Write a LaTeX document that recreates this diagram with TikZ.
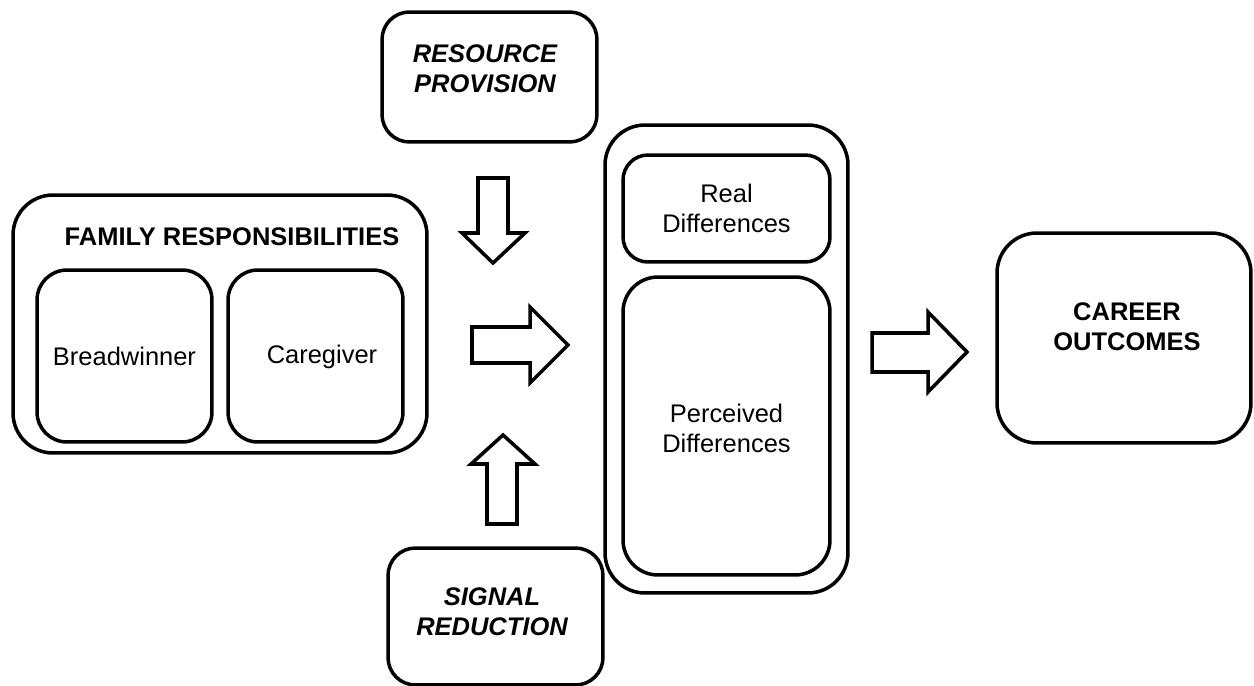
\documentclass[tikz,border=0pt]{standalone}
\usepackage{fontspec}
\setmainfont{Liberation Sans}
\usepackage{tikz}

\begin{document}
\begin{tikzpicture}[x=0.02cm,y=-0.02cm,
  box/.style={draw,line width=2pt,rectangle,inner sep=0pt},
  txt/.style={align=center,font=\fontsize{14.5}{17}\selectfont},
  blockarrow/.style={draw,line width=2pt,line join=miter,fill=white}]
\useasboundingbox (0,0) rectangle (1254,686);
% family responsibilities
\node[box,minimum width=8.28cm,minimum height=5.16cm,rounded corners=0.8cm] (fam) at (220,324) {};
\node[txt,font=\fontsize{14.5}{17}\selectfont\bfseries] (famt) at (232,237) {FAMILY RESPONSIBILITIES};
\node[box,txt,minimum width=3.5cm,minimum height=3.44cm,rounded corners=0.6cm] (bread) at (124.5,356) {Breadwinner};
\node[box,minimum width=3.5cm,minimum height=3.44cm,rounded corners=0.6cm] (care) at (315.5,356) {};
\node[txt] (caret) at (322,357) {Caregiver};
% moderators
\node[box,minimum width=4.3cm,minimum height=2.6cm,rounded corners=0.55cm] (res) at (489.5,77) {};
\node[txt,font=\fontsize{14.5}{17}\selectfont\bfseries\itshape] (rest) at (485,69) {RESOURCE\\PROVISION};
\node[box,minimum width=4.3cm,minimum height=2.74cm,rounded corners=0.55cm] (sig) at (495.5,616.5) {};
\node[txt,font=\fontsize{14.5}{17}\selectfont\bfseries\itshape] (sigt) at (492,612) {SIGNAL\\REDUCTION};
% differences
\node[box,minimum width=4.86cm,minimum height=9.36cm,rounded corners=0.8cm] (mid) at (726.5,359) {};
\node[box,txt,minimum width=4.14cm,minimum height=2.14cm,rounded corners=0.5cm] (real) at (726.5,208.5) {Real\\Differences};
\node[box,minimum width=4.14cm,minimum height=5.96cm,rounded corners=0.7cm] (perc) at (726.5,426) {};
\node[txt] (perct) at (726.5,428) {Perceived\\Differences};
% outcomes
\node[box,minimum width=5.08cm,minimum height=4.2cm,rounded corners=0.8cm] (car) at (1124,338) {};
\node[txt,font=\fontsize{14.5}{17}\selectfont\bfseries] (cart) at (1127,327) {CAREER\\OUTCOMES};
% block arrows
\draw[blockarrow] (478,178) -- (508,178) -- (508,233) -- (525,233) -- (493,263) -- (462,233) -- (478,233) -- cycle;
\draw[blockarrow] (472,327) -- (530,327) -- (530,307) -- (568,345) -- (530,383) -- (530,363) -- (472,363) -- cycle;
\draw[blockarrow] (487,524) -- (487,464) -- (471,464) -- (503,435) -- (535,464) -- (517,464) -- (517,524) -- cycle;
\draw[blockarrow] (872,333) -- (928,333) -- (928,312) -- (967,352) -- (928,392) -- (928,372) -- (872,372) -- cycle;
\end{tikzpicture}
\end{document}
